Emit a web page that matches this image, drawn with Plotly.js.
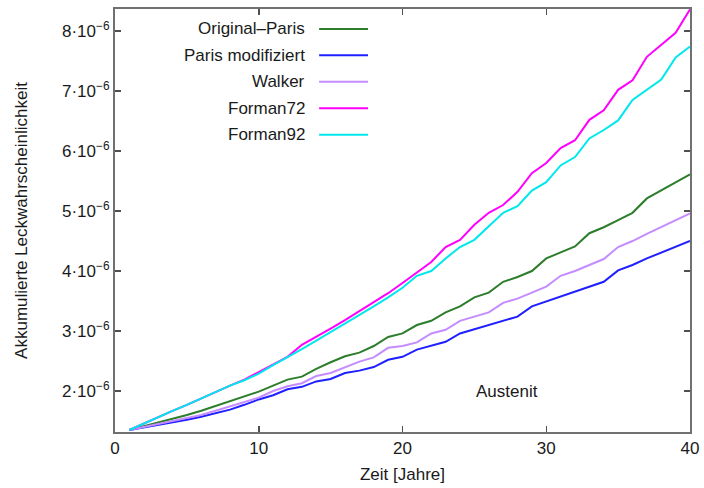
<!DOCTYPE html>
<html>
<head>
<meta charset="utf-8">
<script src="https://cdn.plot.ly/plotly-3.0.1.min.js"></script>
<style>
  html, body { margin: 0; padding: 0; background: #fff; }
  #chart { width: 704px; height: 488px; }
</style>
</head>
<body>
<div id="chart"></div>
<script>
// Time in years
const jahre = [1,2,3,4,5,6,7,8,9,10,11,12,13,14,15,16,17,18,19,20,
               21,22,23,24,25,26,27,28,29,30,31,32,33,34,35,36,37,38,39,40];

// Accumulated leak probability, in units of 1e-6
const originalParis = [1.35,1.41,1.47,1.54,1.60,1.67,1.75,1.83,1.91,1.99,
                       2.09,2.19,2.24,2.37,2.48,2.58,2.64,2.75,2.90,2.96,
                       3.10,3.17,3.31,3.41,3.56,3.64,3.82,3.90,4.00,4.21,
                       4.31,4.41,4.63,4.73,4.85,4.97,5.21,5.34,5.47,5.61];
const parisModifiziert = [1.35,1.39,1.44,1.48,1.52,1.57,1.63,1.69,1.77,1.86,
                          1.93,2.03,2.07,2.16,2.20,2.30,2.34,2.40,2.52,2.57,
                          2.69,2.75,2.82,2.96,3.03,3.10,3.17,3.24,3.41,3.49,
                          3.57,3.66,3.74,3.82,4.01,4.10,4.21,4.31,4.41,4.50];
const walker = [1.35,1.40,1.45,1.50,1.55,1.60,1.67,1.74,1.81,1.89,
                2.00,2.08,2.13,2.25,2.30,2.40,2.49,2.56,2.72,2.75,
                2.81,2.96,3.02,3.17,3.24,3.31,3.47,3.54,3.64,3.74,
                3.92,4.00,4.10,4.20,4.40,4.50,4.62,4.73,4.84,4.96];
const forman72 = [1.35,1.46,1.57,1.67,1.77,1.88,1.98,2.09,2.19,2.32,
                  2.45,2.57,2.77,2.90,3.04,3.18,3.33,3.48,3.63,3.80,
                  3.97,4.15,4.40,4.52,4.77,4.97,5.10,5.32,5.63,5.80,
                  6.05,6.18,6.52,6.68,7.02,7.18,7.57,7.77,7.97,8.36];
const forman92 = [1.35,1.46,1.57,1.67,1.77,1.88,1.98,2.09,2.18,2.29,
                  2.43,2.56,2.70,2.84,2.98,3.12,3.26,3.41,3.56,3.72,
                  3.92,4.00,4.21,4.40,4.52,4.75,4.97,5.08,5.34,5.48,
                  5.76,5.90,6.21,6.35,6.51,6.85,7.02,7.19,7.56,7.74];

const serienNamen = ['Original\u2013Paris', 'Paris modifiziert', 'Walker', 'Forman72', 'Forman92'];
const serienWerte = [originalParis, parisModifiziert, walker, forman72, forman92];
const serienFarben = ['#2c7d2c', '#1f1fff', '#c48cff', '#ff00ff', '#00e8ec'];

const yTickWerte = [2, 3, 4, 5, 6, 7, 8];
const yTickTexte = yTickWerte.map(v => v + '\u00b710<sup>\u22126</sup>');
const xTickWerte = [0, 10, 20, 30, 40];

const FONT = 'Liberation Sans, Arial, Helvetica, sans-serif';
const TEXT = '#1a1a1a';

const traces = serienNamen.map((name, i) => ({
  type: 'scatter',
  mode: 'lines',
  name: name,
  x: jahre,
  y: serienWerte[i],
  line: { color: serienFarben[i], width: 2 },
  showlegend: false
}));

// Key drawn at the upper left: right-aligned label with line sample to its right
const keyTop = 0.953, keyStep = 0.0625;
const shapes = [], annotations = [];
serienNamen.forEach((name, i) => {
  const y = keyTop - i * keyStep;
  annotations.push({
    xref: 'paper', yref: 'paper', x: 0.334, y: y,
    xanchor: 'right', yanchor: 'middle', showarrow: false,
    text: name, font: { family: FONT, size: 17, color: TEXT }
  });
  shapes.push({
    type: 'line', xref: 'paper', yref: 'paper',
    x0: 0.355, x1: 0.44, y0: y, y1: y,
    line: { color: serienFarben[i], width: 2 }
  });
});

annotations.push({
  xref: 'x', yref: 'y', x: 27.3, y: 2.0,
  xanchor: 'center', yanchor: 'middle', showarrow: false,
  text: 'Austenit', font: { family: FONT, size: 17, color: TEXT }
});

const achse = {
  showline: true, linecolor: '#707070', linewidth: 2,
  mirror: 'ticks', ticks: 'inside', ticklen: 6, tickwidth: 1.5, tickcolor: '#505050',
  showgrid: false, zeroline: false,
  tickfont: { family: FONT, size: 17, color: TEXT }
};

const layout = {
  width: 704, height: 488,
  margin: { l: 115, r: 14, t: 9, b: 56 },
  paper_bgcolor: '#ffffff', plot_bgcolor: '#ffffff',
  font: { family: FONT, size: 17, color: TEXT },
  xaxis: Object.assign({}, achse, {
    range: [0, 40], tickmode: 'array', tickvals: xTickWerte,
    title: { text: 'Zeit [Jahre]', font: { family: FONT, size: 17, color: TEXT }, standoff: 11 }
  }),
  yaxis: Object.assign({}, achse, {
    range: [1.317, 8.367], tickmode: 'array', tickvals: yTickWerte, ticktext: yTickTexte,
    title: { text: 'Akkumulierte Leckwahrscheinlichkeit', font: { family: FONT, size: 17, color: TEXT }, standoff: 30 }
  }),
  shapes: shapes,
  annotations: annotations
};

Plotly.newPlot('chart', traces, layout, { staticPlot: true, displayModeBar: false });
</script>
</body>
</html>
